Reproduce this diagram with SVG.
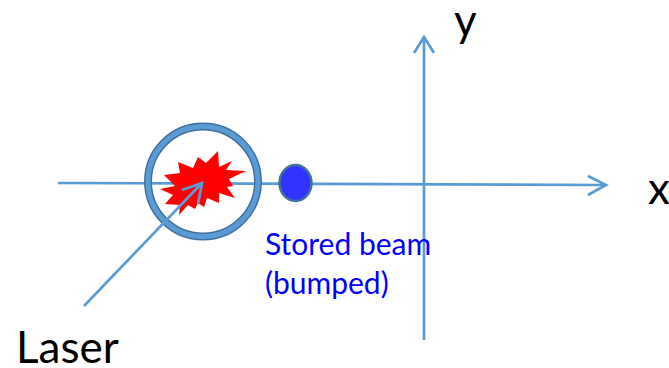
<svg xmlns="http://www.w3.org/2000/svg" width="669" height="368" viewBox="0 0 669 368">
<style>
.a{fill:none;stroke:#5b9bd5;stroke-width:2.700}
.t{font-family:Lato,"Liberation Sans",sans-serif;fill:#000;font-size:44px}
.b{font-family:Lato,"Liberation Sans",sans-serif;font-size:30px;fill:#0000ff}
</style>
<rect width="669" height="368" fill="#fff"/>
<g id="connectors">
<path class="a" d="M58 183L606 185M588 176L606 185L588 195"/>
<path class="a" d="M424 340V37M414 53L424 37L434 53"/>
</g>
<g id="burst"><polygon fill="#ff0000" points="164,175 180,173 178,162 193,168 198,157 206,163 218,151 219,167 232,161 226,170 246,171 229,179 233,186 227,187 235,198 219,193 219,203 207,198 204,207 198,203 195,209 188,205 179,215 180,205 165,204 173,195 160,189 175,186"/></g>
<g id="ring"><circle cx="203" cy="181.500" r="55" fill="none" stroke="#41719c" stroke-width="8"/><circle cx="203" cy="181.500" r="55" fill="none" stroke="#5b9bd5" stroke-width="5"/></g>
<g id="beam"><ellipse cx="295.500" cy="183" rx="16" ry="18" fill="#3333ff" stroke="#41719c" stroke-width="2.500"/></g>
<g id="laser-arrow"><path class="a" d="M84 306L202 183M182 190L202 183L198 204"/></g>
<g id="labels">
<text class="t" x="454" y="36">y</text>
<text class="t" x="648" y="204">x</text>
<text class="t" x="16" y="363">Laser</text>
<text class="b" x="265" y="255">Stored beam</text>
<text class="b" x="265" y="294">(bumped)</text>
</g>
</svg>
